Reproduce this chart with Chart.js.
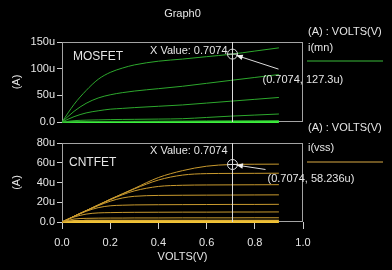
<!DOCTYPE html>
<html>
<head>
<meta charset="utf-8">
<script src="https://cdn.jsdelivr.net/npm/chart.js@4.4.1/dist/chart.umd.min.js"></script>
<style>
  html, body { margin: 0; padding: 0; background: #000; }
  #wrap { position: relative; width: 392px; height: 270px; background: #000; overflow: hidden; }
  canvas { position: absolute; left: 0; top: 0; }
</style>
</head>
<body>
<div id="wrap">
  <canvas id="mosChart" width="392" height="270"></canvas>
  <canvas id="cntChart" width="392" height="270"></canvas>
</div>
<script>
// sweep points (V)
const volts = [0, 0.05, 0.1, 0.15, 0.2, 0.25, 0.3, 0.4, 0.5, 0.6, 0.7, 0.8, 0.9];

// MOSFET i(mn), in uA, one list per gate step
const mos1 = [0, 33, 59, 80, 93, 101, 107, 114, 118, 122.5, 127, 133, 139];
const mos2 = [0, 20, 35, 45, 51, 55, 58, 62.5, 67, 72.5, 78, 83.5, 89];
const mos3 = [0, 10, 17, 21, 24, 25.5, 27, 29.5, 32, 35.5, 39, 42.5, 46];
const mos4 = [0, 2.5, 3.5, 4, 4.5, 4.8, 5, 5.5, 6.2, 8.5, 11, 13, 15];
const mos5 = [0, 0.5, 0.8, 1, 1.1, 1.2, 1.3, 1.5, 1.7, 2, 2.2, 2.4, 2.6];
const mos6 = [0, 0, 0, 0, 0, 0, 0, 0, 0, 0, 0, 0, 0];

// CNTFET i(vss), in uA
const cnt1 = [0, 5.8, 11.5, 17.2, 23, 28.5, 34, 45, 52, 56.5, 58.2, 58.5, 58.6];
const cnt2 = [0, 5.8, 11.5, 17.2, 23, 28.3, 33.5, 42.5, 47.5, 49, 49.2, 49.3, 49.4];
const cnt3 = [0, 5.8, 11.5, 17, 22.5, 27.5, 31.5, 36, 37.2, 37.5, 37.6, 37.7, 37.8];
const cnt4 = [0, 5.8, 11.3, 16.5, 21, 24.3, 26, 26.9, 27.1, 27.2, 27.3, 27.4, 27.5];
const cnt5 = [0, 5.7, 10.8, 14.5, 16.4, 17, 17.3, 17.5, 17.6, 17.7, 17.8, 17.8, 17.9];
const cnt6 = [0, 5, 8, 9.2, 9.5, 9.7, 9.8, 9.9, 10, 10, 10.1, 10.1, 10.2];
const cnt7 = [0, 3, 3.7, 3.9, 4, 4, 4.1, 4.1, 4.2, 4.2, 4.2, 4.3, 4.3];
const cnt8 = [0, 1.2, 1.4, 1.5, 1.5, 1.5, 1.5, 1.6, 1.6, 1.6, 1.6, 1.6, 1.6];
const cnt9 = [0, 0, 0, 0, 0, 0, 0, 0, 0, 0, 0, 0, 0];

// axis ticks
const xTicks = [0, 0.2, 0.4, 0.6, 0.8, 1.0];
const mosTicks = [0, 50, 100, 150];
const cntTicks = [0, 20, 40, 60, 80];

// cursor readout
const cursorX = 0.7074;
const mosCursorY = 127.3;
const cntCursorY = 58.236;

const FONT = '"Liberation Sans", Arial, sans-serif';
const TEXT = '#e6e6e6';

function toPoints(ys) {
  return ys.map((v, i) => ({ x: volts[i], y: v }));
}

function lineSet(ys, color, width) {
  return {
    data: toPoints(ys),
    borderColor: color,
    borderWidth: width,
    pointRadius: 0,
    cubicInterpolationMode: 'monotone',
    clip: 3
  };
}

function uLabel(v) {
  return v === 0 ? '0.0' : v + 'u';
}

function decor(o) {
  return {
    id: 'decor',
    beforeDatasetsDraw(chart) {
      const { ctx, chartArea: a } = chart;
      ctx.save();
      ctx.strokeStyle = '#a4a4a4';
      ctx.lineWidth = 1;
      ctx.strokeRect(a.left + 0.5, a.top + 0.5, a.width - 1, a.height - 1);
      ctx.restore();
    },
    afterDraw(chart) {
      const { ctx, chartArea: a, scales: { x, y } } = chart;
      const cx = Math.round(x.getPixelForValue(cursorX)) + 0.5;
      const cy = y.getPixelForValue(o.cursorY);
      ctx.save();
      ctx.font = '11px ' + FONT;
      ctx.fillStyle = TEXT;
      ctx.textBaseline = 'middle';

      // cursor line
      ctx.strokeStyle = '#dcdcdc';
      ctx.lineWidth = 1;
      ctx.beginPath();
      ctx.moveTo(cx, a.top);
      ctx.lineTo(cx, a.bottom);
      ctx.stroke();

      // X value text
      ctx.textAlign = 'right';
      ctx.fillText('X Value: ' + cursorX, cx - 5, o.xValueY);

      // marker
      ctx.beginPath();
      ctx.arc(cx, cy, 5, 0, Math.PI * 2);
      ctx.moveTo(cx - 5, cy); ctx.lineTo(cx + 5, cy);
      ctx.moveTo(cx, cy - 5); ctx.lineTo(cx, cy + 5);
      ctx.stroke();

      // leader with arrow head
      const ex = cx + o.lead[0], ey = cy + o.lead[1];
      const ang = Math.atan2(ey - cy, ex - cx);
      const sx = cx + 4 * Math.cos(ang), sy = cy + 4 * Math.sin(ang);
      ctx.beginPath();
      ctx.moveTo(sx, sy);
      ctx.lineTo(ex, ey);
      ctx.stroke();
      ctx.beginPath();
      ctx.moveTo(sx, sy);
      ctx.lineTo(sx + 7 * Math.cos(ang + 0.4), sy + 7 * Math.sin(ang + 0.4));
      ctx.lineTo(sx + 7 * Math.cos(ang - 0.4), sy + 7 * Math.sin(ang - 0.4));
      ctx.closePath();
      ctx.fillStyle = '#f0f0f0';
      ctx.fill();
      ctx.fillStyle = TEXT;
      ctx.textAlign = 'left';
      ctx.fillText('(' + cursorX + ', ' + o.cursorY + 'u)', cx + o.label[0], cy + o.label[1]);

      // device name
      ctx.font = '12px ' + FONT;
      ctx.fillText(o.name, o.namePos[0], o.namePos[1]);

      // legend
      ctx.font = '11px ' + FONT;
      ctx.fillText('(A) : VOLTS(V)', 308, o.legY[0]);
      ctx.fillText(o.trace, 308, o.legY[1]);
      ctx.strokeStyle = o.legColor;
      ctx.lineWidth = 2;
      ctx.beginPath();
      ctx.moveTo(307, o.legY[2]);
      ctx.lineTo(383, o.legY[2]);
      ctx.stroke();

      if (o.title) {
        ctx.textAlign = 'center';
        ctx.fillText(o.title, (a.left + a.right) / 2, 14);
      }
      ctx.restore();
    }
  };
}

function yScale(max, ticks) {
  return {
    type: 'linear',
    min: 0,
    max: max,
    afterFit: s => { s.width = 62; },
    afterBuildTicks: s => { s.ticks = ticks.map(v => ({ value: v })); },
    grid: { drawOnChartArea: false, drawTicks: true, tickLength: 5, color: '#cfcfcf' },
    border: { display: false },
    ticks: { color: TEXT, font: { family: FONT, size: 11 }, padding: 2, callback: uLabel },
    title: { display: true, text: '(A)', color: TEXT, font: { family: FONT, size: 11 }, padding: { top: 10, bottom: 0 } }
  };
}

const mosGreen = '#2da82d';
new Chart(document.getElementById('mosChart'), {
  type: 'line',
  data: {
    datasets: [
      lineSet(mos1, mosGreen, 1),
      lineSet(mos2, mosGreen, 1),
      lineSet(mos3, mosGreen, 1),
      lineSet(mos4, mosGreen, 1),
      lineSet(mos5, mosGreen, 1),
      lineSet(mos6, '#3cf03c', 2)
    ]
  },
  options: {
    responsive: false,
    animation: false,
    devicePixelRatio: 1,
    layout: { padding: { left: 0, top: 42, right: 89, bottom: 148 } },
    plugins: { legend: { display: false }, tooltip: { enabled: false } },
    scales: {
      x: { type: 'linear', min: 0, max: 1, display: false },
      y: yScale(150, mosTicks)
    }
  },
  plugins: [decor({
    cursorY: mosCursorY,
    xValueY: 51,
    lead: [46, 15],
    label: [30, 26],
    name: 'MOSFET',
    namePos: [73, 57],
    trace: 'i(mn)',
    legY: [32, 48, 61],
    legColor: '#1d5e1d',
    title: 'Graph0'
  })]
});

const cntGold = '#c99a2e';
new Chart(document.getElementById('cntChart'), {
  type: 'line',
  data: {
    datasets: [
      lineSet(cnt1, cntGold, 1),
      lineSet(cnt2, cntGold, 1),
      lineSet(cnt3, cntGold, 1),
      lineSet(cnt4, cntGold, 1),
      lineSet(cnt5, cntGold, 1),
      lineSet(cnt6, cntGold, 1),
      lineSet(cnt7, cntGold, 1),
      lineSet(cnt8, '#e0b035', 1.5),
      lineSet(cnt9, '#f2c436', 2)
    ]
  },
  options: {
    responsive: false,
    animation: false,
    devicePixelRatio: 1,
    layout: { padding: { left: 0, top: 143, right: 89, bottom: 0 } },
    plugins: { legend: { display: false }, tooltip: { enabled: false } },
    scales: {
      x: {
        type: 'linear',
        min: 0,
        max: 1,
        afterFit: s => { s.height = 48; },
        afterBuildTicks: s => { s.ticks = xTicks.map(v => ({ value: v })); },
        grid: { drawOnChartArea: false, drawTicks: true, tickLength: 7, color: '#cfcfcf' },
        border: { display: false },
        ticks: { color: TEXT, font: { family: FONT, size: 11 }, padding: 7, maxRotation: 0, callback: v => v.toFixed(1) },
        title: { display: true, text: 'VOLTS(V)', color: TEXT, font: { family: FONT, size: 11 }, padding: { top: 0, bottom: 6 } }
      },
      y: yScale(80, cntTicks)
    }
  },
  plugins: [decor({
    cursorY: cntCursorY,
    xValueY: 151,
    lead: [33, 5],
    label: [35, 14],
    name: 'CNTFET',
    namePos: [69, 163],
    trace: 'i(vss)',
    legY: [128, 148, 162],
    legColor: '#6d5522'
  })]
});
</script>
</body>
</html>
